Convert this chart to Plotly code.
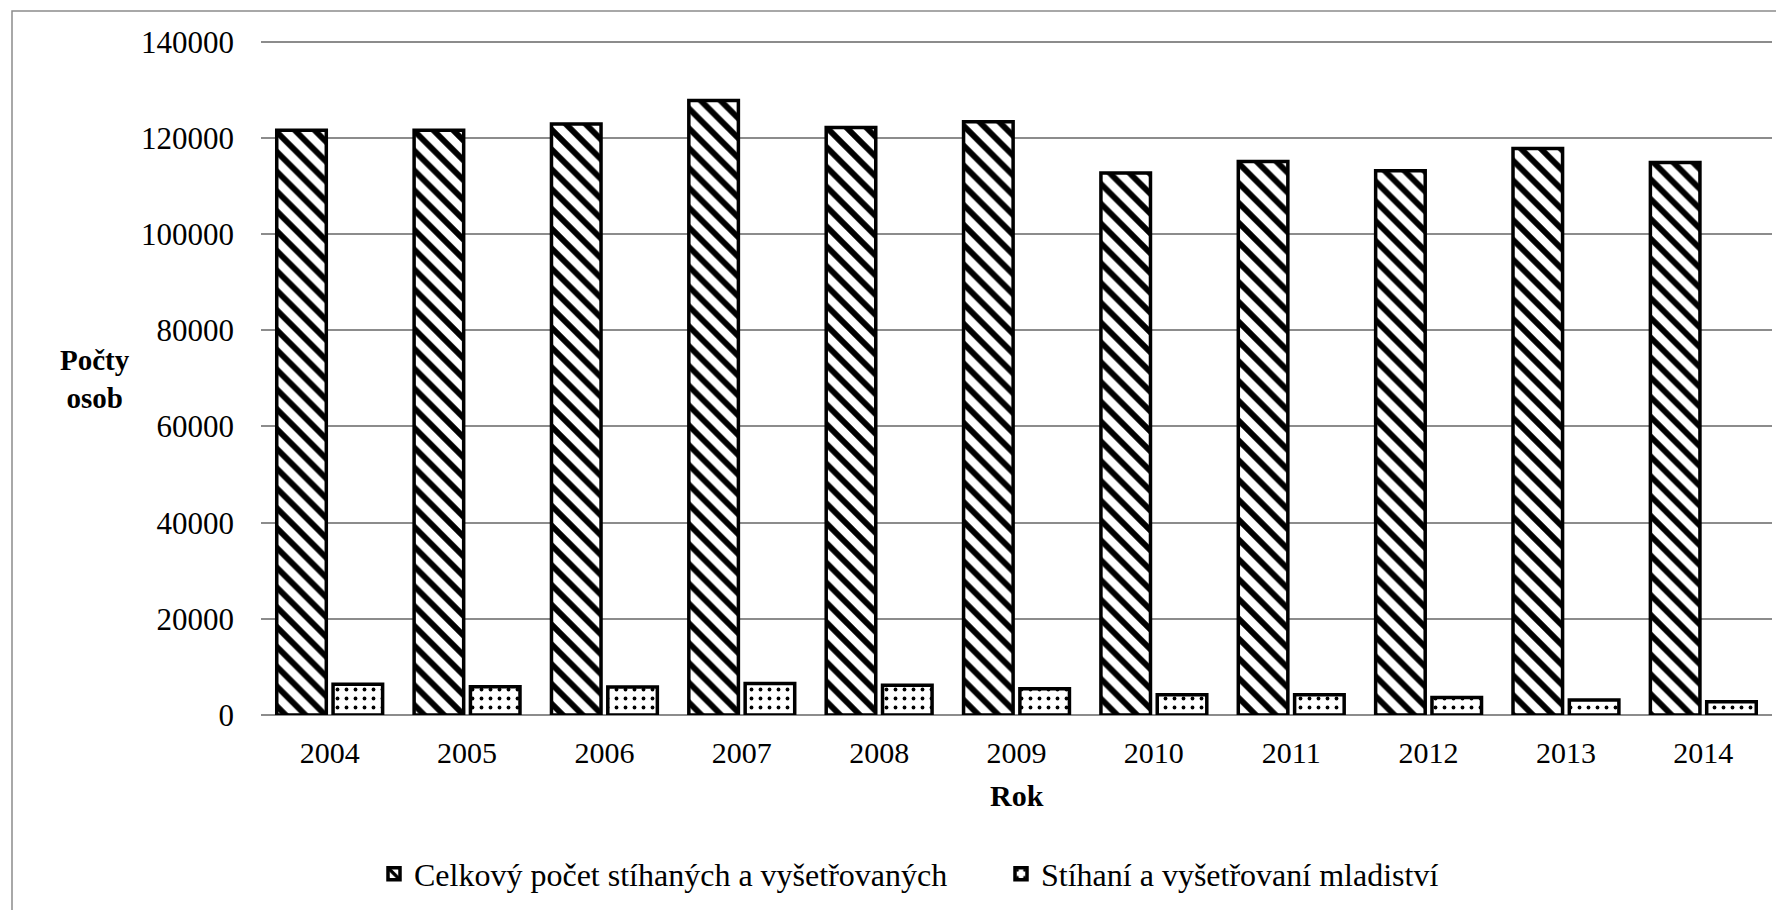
import plotly.graph_objects as go

years = ["2004", "2005", "2006", "2007", "2008", "2009", "2010", "2011", "2012", "2013", "2014"]
total = [121600, 121600, 122900, 127800, 122200, 123400, 112700, 115100, 113200, 117800, 114900]
juvenile = [6400, 5900, 5800, 6550, 6200, 5450, 4200, 4200, 3650, 3100, 2750]
name_total = "Celkový počet stíhaných a vyšetřovaných"
name_juv = "Stíhaní a vyšetřovaní mladiství"
y_ticks = [0, 20000, 40000, 60000, 80000, 100000, 120000, 140000]

FONT = "Liberation Serif, Times New Roman, serif"
OFF = 8  # page body margin
W, H = 1784 - OFF, 910 - OFF
L, R, T, B = 253, 12, 29, 195
PW, PH = W - L - R, H - T - B

fig = go.Figure()
fig.add_trace(go.Bar(
    x=years, y=total, name=name_total,
    marker=dict(color="white", line=dict(color="black", width=3.5),
                pattern=dict(shape="\\", fgcolor="black", bgcolor="white",
                             size=14, solidity=0.42, fillmode="replace")),
))
fig.add_trace(go.Bar(
    x=years, y=juvenile, name=name_juv,
    marker=dict(color="white", line=dict(color="black", width=3.5),
                pattern=dict(shape=".", fgcolor="black", bgcolor="white",
                             size=9, solidity=0.14, fillmode="replace")),
))

def px_x(p):
    return (p - OFF - L) / PW

def px_y(p):
    return 1 - (p - OFF - T) / PH

fig.update_layout(
    width=W, height=H,
    margin=dict(l=L, r=R, t=T, b=B, autoexpand=False),
    paper_bgcolor="white", plot_bgcolor="white",
    font=dict(family=FONT, size=30, color="black"),
    barmode="group", bargap=0.18, bargroupgap=0.12,
    showlegend=True,
    legend=dict(orientation="h", x=px_x(374), xanchor="left",
                y=px_y(874), yanchor="middle",
                font=dict(family=FONT, size=32, color="black"),
                entrywidth=582, entrywidthmode="pixels",
                bgcolor="rgba(0,0,0,0)"),
    xaxis=dict(showgrid=False, showline=False, ticks="", zeroline=False,
               tickfont=dict(family=FONT, size=30, color="black"),
               ticklabelstandoff=17),
    yaxis=dict(range=[0, 141000], tickvals=y_ticks,
               ticktext=[str(v) for v in y_ticks],
               showgrid=True, gridcolor="#8c8c8c", gridwidth=1.5,
               zeroline=True, zerolinecolor="#8c8c8c", zerolinewidth=1.5,
               showline=False, ticks="",
               tickfont=dict(family=FONT, size=31, color="black"),
               ticklabelstandoff=26),
    shapes=[dict(type="rect", xref="paper", yref="paper",
                 x0=px_x(12), x1=px_x(1800), y0=px_y(930), y1=px_y(11),
                 line=dict(color="#8c8c8c", width=1.5), fillcolor="rgba(0,0,0,0)",
                 layer="below")],
    annotations=[
        dict(text="<b>Počty<br>osob</b>", xref="paper", yref="paper",
             x=px_x(95), y=px_y(379), xanchor="center", yanchor="middle",
             showarrow=False, align="center",
             font=dict(family=FONT, size=29, color="black")),
        dict(text="<b>Rok</b>", xref="paper", yref="paper",
             x=px_x(1017), y=px_y(795), xanchor="center", yanchor="middle",
             showarrow=False, font=dict(family=FONT, size=30, color="black")),
    ],
)

fig.write_html("out.html")
